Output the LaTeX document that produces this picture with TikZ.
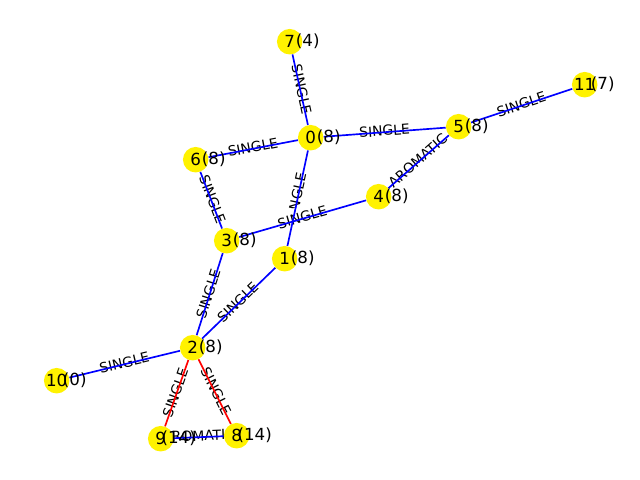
\documentclass[tikz,border=0pt]{standalone}
\usepackage{fontspec}
\setmainfont{DejaVu Sans}
\usetikzlibrary{arrows.meta,positioning}
\pgfdeclarelayer{labels}
\pgfdeclarelayer{bonds}
\pgfdeclarelayer{tags}
\pgfsetlayers{labels,bonds,main,tags}

\begin{document}
\begin{tikzpicture}[
            x=0.01in, y=-0.01in,
            atom/.style={circle, fill=yellow, minimum size=0.255in, inner sep=0pt, font=\fontsize{12bp}{14bp}\selectfont},
            tag/.style={inner sep=0pt, font=\fontsize{12bp}{14bp}\selectfont},
            bond/.style={line width=1.2bp},
            bondlabel/.style={fill=white, rounded corners=2pt, inner sep=4bp, text height=7.6bp, text depth=2.4bp, font=\fontsize{10bp}{12bp}\selectfont, midway, sloped}
        ]
        \useasboundingbox (-0.7,-0.7) rectangle (639.3,479.3);
        \foreach \name/\x/\y/\charge in {0/310/137/8, 1/284/258/8, 2/192/347/8, 3/226/240/8, 4/378/196/8, 5/458/126/8, 6/195/159/8, 7/289/41/4, 8/236/435/14, 9/160/438/14, 10/56/380/0, 11/584/84/7} {
            \node[atom] (n\name) at (\x,\y) {\name};
            \begin{pgfonlayer}{tags}
                \node[tag] (t\name) at ([xshift=0.18in]n\name.center) {(\charge)};
            \end{pgfonlayer}
        }
        \foreach \from/\to/\kind/\col in {n0/n1/SINGLE/blue, n0/n5/SINGLE/blue, n0/n6/SINGLE/blue, n0/n7/SINGLE/blue, n1/n2/SINGLE/blue, n2/n3/SINGLE/blue, n2/n8/SINGLE/red, n2/n9/SINGLE/red, n2/n10/SINGLE/blue, n3/n4/SINGLE/blue, n3/n6/SINGLE/blue, n4/n5/AROMATIC/blue, n5/n11/SINGLE/blue, n8/n9/AROMATIC/blue} {
            \begin{pgfonlayer}{labels}
                \path (\from.center) -- (\to.center) node[bondlabel] {\kind};
            \end{pgfonlayer}
            \begin{pgfonlayer}{bonds}
                \draw[bond, \col] (\from) -- (\to);
            \end{pgfonlayer}
        }
        \end{tikzpicture}
\end{document}
